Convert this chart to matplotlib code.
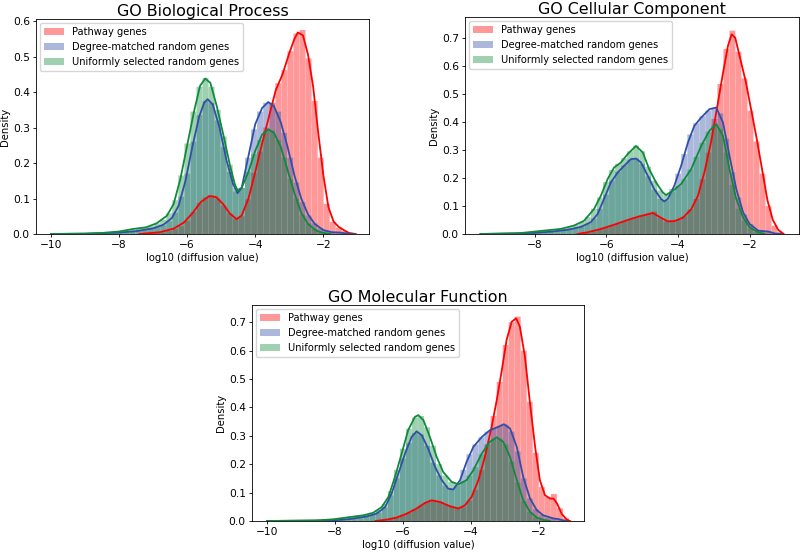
import numpy as np
import matplotlib
matplotlib.use('Agg')
import matplotlib.pyplot as plt

labels = ['Pathway genes', 'Degree-matched random genes', 'Uniformly selected random genes']
line_colors = ['#ff0000', '#2f4fa8', '#0f8a3a']

# ---------------- GO Biological Process ----------------
bp_red_hist = [0, 0, 0, 0, 0, 0, 0, 0, 0, 0,
               0, 0, 0, 0, 0, 0, 0.001, 0.003, 0.004, 0.008,
               0.014, 0.022, 0.037, 0.062, 0.088, 0.103, 0.108, 0.100, 0.080, 0.058,
               0.043, 0.050, 0.098, 0.172, 0.232, 0.300, 0.370, 0.425, 0.462, 0.515,
               0.565, 0.575, 0.495, 0.375, 0.215, 0.085, 0.034, 0.018, 0.008, 0.003]
bp_blue_hist = [0, 0, 0, 0.001, 0.001, 0.001, 0.002, 0.002, 0.003, 0.003,
                0.004, 0.005, 0.006, 0.007, 0.009, 0.011, 0.015, 0.019, 0.024, 0.036,
                0.060, 0.105, 0.170, 0.260, 0.335, 0.375, 0.370, 0.320, 0.245, 0.175,
                0.120, 0.130, 0.215, 0.295, 0.345, 0.370, 0.368, 0.345, 0.285, 0.215,
                0.145, 0.090, 0.052, 0.030, 0.016, 0.009, 0.005, 0.004, 0.002, 0]
bp_green_hist = [0, 0, 0.001, 0.001, 0.001, 0.002, 0.002, 0.003, 0.003, 0.005,
                 0.006, 0.008, 0.010, 0.012, 0.015, 0.018, 0.022, 0.030, 0.040, 0.058,
                 0.095, 0.165, 0.255, 0.345, 0.415, 0.440, 0.415, 0.350, 0.275, 0.195,
                 0.130, 0.130, 0.175, 0.225, 0.265, 0.290, 0.292, 0.265, 0.215, 0.155,
                 0.100, 0.055, 0.030, 0.014, 0.006, 0.002, 0, 0, 0, 0]

bp_red_x = [-7.4, -6.8, -6.4, -6.1, -5.85, -5.6, -5.35, -5.15, -4.95, -4.75, -4.55, -4.4,
            -4.2, -4.0, -3.8, -3.6, -3.4, -3.2, -3.0, -2.85, -2.75, -2.6, -2.45, -2.3,
            -2.15, -2.0, -1.85, -1.7, -1.55, -1.4, -1.25, -1.05]
bp_red_y = [0.0, 0.005, 0.015, 0.032, 0.058, 0.09, 0.107, 0.104, 0.085, 0.058, 0.042, 0.052,
            0.1, 0.175, 0.255, 0.33, 0.405, 0.45, 0.51, 0.55, 0.568, 0.56, 0.505, 0.415,
            0.285, 0.165, 0.075, 0.035, 0.02, 0.011, 0.003, 0.0]
bp_blue_x = [-10.0, -9.0, -8.0, -7.5, -7.0, -6.7, -6.45, -6.25, -6.05, -5.85, -5.65, -5.5,
             -5.4, -5.25, -5.05, -4.85, -4.65, -4.52, -4.4, -4.2, -4.0, -3.8, -3.62, -3.45,
             -3.25, -3.05, -2.85, -2.65, -2.45, -2.25, -2.0, -1.75, -1.5, -1.3, -1.1]
bp_blue_y = [0.0, 0.001, 0.004, 0.008, 0.016, 0.026, 0.045, 0.08, 0.15, 0.245, 0.33, 0.37,
             0.38, 0.365, 0.3, 0.21, 0.14, 0.115, 0.13, 0.22, 0.31, 0.355, 0.372, 0.36,
             0.315, 0.245, 0.165, 0.1, 0.055, 0.028, 0.011, 0.005, 0.004, 0.001, 0.0]
bp_green_x = [-10.0, -9.0, -8.5, -8.0, -7.6, -7.2, -6.9, -6.6, -6.4, -6.2, -6.0, -5.8,
              -5.62, -5.47, -5.32, -5.13, -4.93, -4.74, -4.6, -4.52, -4.4, -4.2, -4.0, -3.8,
              -3.62, -3.45, -3.25, -3.05, -2.85, -2.65, -2.45, -2.2, -2.0, -1.8]
bp_green_y = [0.0, 0.001, 0.003, 0.007, 0.014, 0.019, 0.03, 0.051, 0.084, 0.155, 0.25, 0.345,
              0.418, 0.438, 0.426, 0.36, 0.276, 0.192, 0.14, 0.122, 0.13, 0.175, 0.235, 0.28,
              0.295, 0.285, 0.245, 0.18, 0.115, 0.06, 0.028, 0.009, 0.003, 0.0]

# ---------------- GO Cellular Component ----------------
cc_red_hist = [0, 0, 0, 0, 0, 0, 0, 0, 0, 0,
               0, 0, 0, 0, 0, 0.001, 0.002, 0.004, 0.010, 0.017,
               0.022, 0.030, 0.037, 0.045, 0.052, 0.060, 0.066, 0.072, 0.080, 0.058,
               0.045, 0.045, 0.050, 0.063, 0.088, 0.125, 0.195, 0.290, 0.410, 0.535,
               0.660, 0.725, 0.650, 0.555, 0.440, 0.330, 0.215, 0.100, 0.030, 0.008]
cc_blue_hist = [0, 0, 0.001, 0.001, 0.001, 0.002, 0.002, 0.003, 0.004, 0.005,
                0.006, 0.008, 0.010, 0.012, 0.016, 0.020, 0.027, 0.036, 0.055, 0.090,
                0.140, 0.190, 0.222, 0.245, 0.265, 0.270, 0.250, 0.205, 0.158, 0.125,
                0.120, 0.160, 0.215, 0.285, 0.355, 0.395, 0.420, 0.440, 0.450, 0.430,
                0.340, 0.220, 0.130, 0.070, 0.035, 0.015, 0.012, 0.008, 0.002, 0]
cc_green_hist = [0, 0, 0.001, 0.001, 0.002, 0.003, 0.004, 0.006, 0.008, 0.010,
                 0.012, 0.014, 0.016, 0.019, 0.024, 0.032, 0.043, 0.060, 0.090, 0.130,
                 0.185, 0.228, 0.250, 0.270, 0.295, 0.315, 0.295, 0.240, 0.190, 0.155,
                 0.140, 0.150, 0.170, 0.195, 0.230, 0.275, 0.325, 0.365, 0.390, 0.375,
                 0.290, 0.175, 0.090, 0.048, 0.020, 0.007, 0.002, 0, 0, 0]

cc_red_x = [-6.8, -6.52, -6.15, -5.78, -5.4, -5.1, -4.85, -4.7, -4.5, -4.28, -4.1, -3.86,
            -3.63, -3.44, -3.26, -3.07, -2.88, -2.74, -2.6, -2.5, -2.4, -2.25, -2.1, -1.95,
            -1.8, -1.65, -1.5, -1.35, -1.2, -1.05]
cc_red_y = [0.0, 0.006, 0.018, 0.033, 0.05, 0.062, 0.07, 0.075, 0.06, 0.045, 0.046, 0.058,
            0.088, 0.136, 0.22, 0.33, 0.47, 0.575, 0.672, 0.712, 0.7, 0.62, 0.54, 0.44,
            0.34, 0.23, 0.12, 0.05, 0.015, 0.0]
cc_blue_x = [-9.51, -8.02, -7.55, -7.08, -6.71, -6.43, -6.24, -6.06, -5.87, -5.68, -5.5, -5.31,
             -5.17, -5.03, -4.84, -4.66, -4.47, -4.38, -4.28, -4.1, -3.91, -3.72, -3.54, -3.35,
             -3.12, -2.93, -2.74, -2.56, -2.37, -2.18, -2.0, -1.76, -1.6, -1.48, -1.3, -1.11]
cc_blue_y = [0.0, 0.004, 0.008, 0.015, 0.025, 0.042, 0.071, 0.125, 0.184, 0.219, 0.243, 0.267,
             0.269, 0.255, 0.208, 0.16, 0.125, 0.116, 0.125, 0.172, 0.243, 0.326, 0.386, 0.415,
             0.445, 0.451, 0.397, 0.279, 0.16, 0.077, 0.036, 0.012, 0.01, 0.009, 0.002, 0.0]
cc_green_x = [-9.51, -8.49, -7.74, -7.27, -6.9, -6.62, -6.34, -6.15, -5.96, -5.78, -5.59, -5.4,
              -5.17, -4.98, -4.8, -4.61, -4.42, -4.33, -4.14, -3.91, -3.63, -3.35, -3.12, -2.93,
              -2.74, -2.56, -2.37, -2.18, -2.0, -1.76, -1.58]
cc_green_y = [0.0, 0.002, 0.012, 0.018, 0.03, 0.047, 0.089, 0.136, 0.196, 0.237, 0.255, 0.285,
              0.314, 0.291, 0.231, 0.184, 0.148, 0.139, 0.154, 0.178, 0.231, 0.314, 0.368, 0.392,
              0.35, 0.231, 0.125, 0.059, 0.024, 0.006, 0.0]

# ---------------- GO Molecular Function ----------------
mf_red_hist = [0, 0, 0, 0, 0, 0, 0, 0, 0, 0,
               0, 0, 0, 0, 0, 0, 0, 0.001, 0.002, 0.005,
               0.008, 0.013, 0.020, 0.030, 0.042, 0.055, 0.067, 0.073, 0.068, 0.060,
               0.050, 0.045, 0.050, 0.072, 0.110, 0.180, 0.270, 0.370, 0.490, 0.620,
               0.700, 0.720, 0.600, 0.420, 0.240, 0.120, 0.085, 0.095, 0.045, 0.010]
mf_blue_hist = [0, 0, 0.001, 0.001, 0.001, 0.001, 0.002, 0.002, 0.002, 0.003,
                0.003, 0.004, 0.005, 0.007, 0.009, 0.012, 0.016, 0.021, 0.030, 0.048,
                0.090, 0.150, 0.220, 0.275, 0.310, 0.305, 0.265, 0.205, 0.160, 0.125,
                0.112, 0.125, 0.180, 0.235, 0.270, 0.295, 0.315, 0.328, 0.335, 0.340,
                0.315, 0.245, 0.150, 0.080, 0.042, 0.022, 0.012, 0.010, 0.005, 0.001]
mf_green_hist = [0, 0, 0.001, 0.001, 0.001, 0.002, 0.002, 0.003, 0.004, 0.005,
                 0.006, 0.008, 0.010, 0.012, 0.015, 0.018, 0.022, 0.028, 0.038, 0.060,
                 0.105, 0.180, 0.255, 0.325, 0.365, 0.370, 0.330, 0.265, 0.200, 0.160,
                 0.138, 0.130, 0.140, 0.160, 0.190, 0.235, 0.270, 0.290, 0.290, 0.270,
                 0.210, 0.135, 0.070, 0.032, 0.013, 0.004, 0, 0, 0, 0]

mf_red_x = [-6.8, -6.47, -6.18, -5.88, -5.59, -5.34, -5.15, -4.9, -4.61, -4.36, -4.17, -3.97,
            -3.77, -3.58, -3.38, -3.23, -3.08, -2.94, -2.79, -2.66, -2.55, -2.4, -2.25, -2.1,
            -1.96, -1.81, -1.66, -1.56, -1.45, -1.32, -1.17, -1.07]
mf_red_y = [0.0, 0.005, 0.012, 0.026, 0.044, 0.064, 0.073, 0.067, 0.052, 0.044, 0.055, 0.085,
            0.144, 0.226, 0.332, 0.426, 0.532, 0.638, 0.702, 0.714, 0.685, 0.579, 0.414, 0.261,
            0.144, 0.091, 0.079, 0.079, 0.061, 0.026, 0.005, 0.0]
mf_blue_x = [-10.0, -8.04, -7.55, -7.06, -6.77, -6.52, -6.33, -6.13, -5.93, -5.74, -5.59, -5.44,
             -5.25, -5.05, -4.85, -4.66, -4.51, -4.31, -4.12, -3.92, -3.67, -3.43, -3.18, -3.02,
             -2.84, -2.64, -2.45, -2.25, -2.05, -1.86, -1.56, -1.42, -1.27, -1.17]
mf_blue_y = [0.0, 0.002, 0.007, 0.016, 0.026, 0.049, 0.096, 0.167, 0.238, 0.296, 0.316, 0.302,
             0.255, 0.191, 0.144, 0.114, 0.111, 0.144, 0.208, 0.261, 0.296, 0.32, 0.332, 0.341,
             0.326, 0.261, 0.155, 0.079, 0.038, 0.02, 0.009, 0.007, 0.002, 0.0]
mf_green_x = [-10.0, -8.54, -8.04, -7.55, -7.16, -6.87, -6.62, -6.42, -6.23, -6.03, -5.84, -5.64,
              -5.54, -5.39, -5.2, -5.0, -4.81, -4.56, -4.36, -4.12, -3.92, -3.67, -3.43, -3.23,
              -3.04, -2.84, -2.64, -2.45, -2.25, -2.05, -1.86, -1.66]
mf_green_y = [0.0, 0.002, 0.006, 0.014, 0.02, 0.029, 0.049, 0.085, 0.155, 0.238, 0.32, 0.367,
              0.373, 0.355, 0.296, 0.226, 0.173, 0.138, 0.129, 0.144, 0.179, 0.238, 0.279, 0.295,
              0.279, 0.226, 0.144, 0.073, 0.032, 0.012, 0.004, 0.0]


def draw_panel(ax, title, edges, hists, curves, xlim, ylim, xticks, yticks, tpad=2.5):
    centers = (edges[:-1] + edges[1:]) / 2
    width = edges[1] - edges[0]
    for heights, (cx, cy), color, label in zip(hists, curves, line_colors, labels):
        bars = ax.bar(centers, heights, width=width * 0.97, color=color, alpha=0.4,
                      linewidth=0, label=label)
        for b in bars:
            b.set_snap(False)
        ax.plot(cx, cy, color=color, lw=1.3)
    ax.set_xlim(*xlim)
    ax.set_ylim(*ylim)
    ax.set_xticks(xticks)
    ax.set_yticks(yticks)
    ax.set_title(title, fontsize=11.4, pad=tpad)
    ax.set_xlabel('log10 (diffusion value)', fontsize=7.2, labelpad=2)
    ax.set_ylabel('Density', fontsize=7.2, labelpad=2)
    ax.tick_params(labelsize=7.7, length=2.5, width=0.6, pad=2)
    for s in ax.spines.values():
        s.set_linewidth(0.6)
    ax.legend(loc='upper left', fontsize=7.1, borderaxespad=0.4)


fig = plt.figure(figsize=(8, 5.52), dpi=100)

ax1 = fig.add_axes([0.045, 0.5761, 0.41625, 0.3895])
draw_panel(ax1, 'GO Biological Process', np.linspace(-10.0, -1.1, 51),
           [bp_red_hist, bp_blue_hist, bp_green_hist],
           [(bp_red_x, bp_red_y), (bp_blue_x, bp_blue_y), (bp_green_x, bp_green_y)],
           (-10.44, -0.66), (0, 0.606), [-10, -8, -6, -4, -2], np.arange(0, 0.61, 0.1))

ax2 = fig.add_axes([0.58125, 0.5761, 0.4175, 0.3922])
draw_panel(ax2, 'GO Cellular Component', np.linspace(-9.45, -1.05, 51),
           [cc_red_hist, cc_blue_hist, cc_green_hist],
           [(cc_red_x, cc_red_y), (cc_blue_x, cc_blue_y), (cc_green_x, cc_green_y)],
           (-9.94, -0.62), (0, 0.772), [-8, -6, -4, -2], np.arange(0, 0.71, 0.1), tpad=1.5)

ax3 = fig.add_axes([0.315, 0.05616, 0.415, 0.3913])
draw_panel(ax3, 'GO Molecular Function', np.linspace(-10.0, -1.1, 51),
           [mf_red_hist, mf_blue_hist, mf_green_hist],
           [(mf_red_x, mf_red_y), (mf_blue_x, mf_blue_y), (mf_green_x, mf_green_y)],
           (-10.44, -0.66), (0, 0.761), [-10, -8, -6, -4, -2], np.arange(0, 0.71, 0.1))

fig.savefig('out.png', dpi=100)
